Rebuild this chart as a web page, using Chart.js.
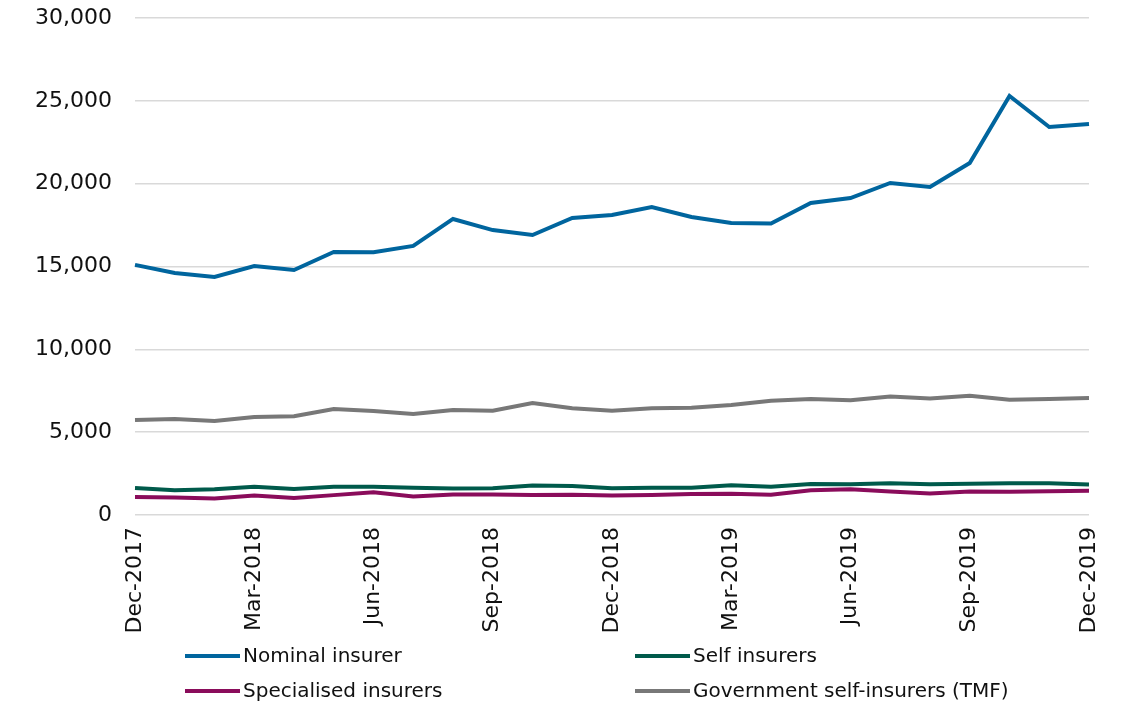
<!DOCTYPE html>
<html>
<head>
  <title>Insurer series</title>
  <style>
    body { margin: 0; background: #fff; font-family: "DejaVu Sans", sans-serif; }
    #wrap { position: relative; width: 1122px; height: 702px; }
    #legend { position: absolute; left: 0; top: 0; width: 1122px; height: 702px; pointer-events: none; }
    .item { position: absolute; font-size: 20px; color: #111; white-space: nowrap; line-height: 24px; }
    .item span.mark { display: inline-block; width: 55px; height: 4px; vertical-align: middle; margin-right: 3px; position: relative; top: -1px; }
  </style>
  <script src="https://cdn.jsdelivr.net/npm/chart.js"></script>
</head>
<body>
  <div id="wrap">
    <canvas id="chart" width="1122" height="702"></canvas>
    <div id="legend"></div>
  </div>
  <script>
    const months = ['Dec-2017', 'Jan-2018', 'Feb-2018', 'Mar-2018', 'Apr-2018', 'May-2018', 'Jun-2018',
      'Jul-2018', 'Aug-2018', 'Sep-2018', 'Oct-2018', 'Nov-2018', 'Dec-2018', 'Jan-2019', 'Feb-2019',
      'Mar-2019', 'Apr-2019', 'May-2019', 'Jun-2019', 'Jul-2019', 'Aug-2019', 'Sep-2019', 'Oct-2019',
      'Nov-2019', 'Dec-2019'];
    const nominal = [15100, 14610, 14370, 15030, 14790, 15880, 15860, 16240, 17870, 17200, 16900, 17930,
      18110, 18590, 17990, 17630, 17600, 18830, 19130, 20040, 19800, 21250, 25290, 23420, 23600];
    const selfIns = [1630, 1500, 1560, 1700, 1570, 1700, 1700, 1650, 1600, 1620, 1780, 1750,
      1620, 1650, 1640, 1800, 1700, 1870, 1860, 1920, 1860, 1880, 1920, 1920, 1840];
    const specialised = [1080, 1050, 990, 1180, 1030, 1200, 1380, 1120, 1230, 1230, 1200, 1220,
      1180, 1200, 1270, 1290, 1220, 1500, 1550, 1420, 1300, 1420, 1400, 1440, 1460];
    const government = [5730, 5800, 5680, 5920, 5960, 6400, 6280, 6100, 6340, 6300, 6760, 6450,
      6300, 6450, 6480, 6640, 6900, 7000, 6930, 7150, 7030, 7200, 6960, 7000, 7060];
    const yTicks = [0, 5000, 10000, 15000, 20000, 25000, 30000];

    const series = [
      {label: 'Nominal insurer', data: nominal, color: '#00659e', col: 0, row: 0},
      {label: 'Self insurers', data: selfIns, color: '#005a4b', col: 1, row: 0},
      {label: 'Specialised insurers', data: specialised, color: '#8a0c5b', col: 0, row: 1},
      {label: 'Government self-insurers (TMF)', data: government, color: '#787878', col: 1, row: 1}
    ];

    const font = {family: '"DejaVu Sans", sans-serif', size: 22};

    new Chart(document.getElementById('chart'), {
      type: 'line',
      data: {
        labels: months,
        datasets: series.map(s => ({
          label: s.label, data: s.data, borderColor: s.color, backgroundColor: s.color,
          borderWidth: 4, pointRadius: 0, tension: 0, fill: false
        }))
      },
      options: {
        responsive: false,
        animation: false,
        layout: {padding: {top: 18, right: 33, left: 0, bottom: 0}},
        plugins: {legend: {display: false}, tooltip: {enabled: false}},
        scales: {
          x: {
            offset: false,
            grid: {display: false, drawTicks: false},
            border: {display: false},
            // fixed axis size, no extra room for the rotated end labels
            afterFit: s => { s.height = 187; s.paddingLeft = 0; s.paddingRight = 0; },
            ticks: {
              autoSkip: false, maxRotation: 90, minRotation: 90, padding: 12,
              color: '#111', font: font,
              callback: (v, i) => (i % 3 === 0 ? months[i] : '')
            }
          },
          y: {
            min: 0, max: 30000,
            afterFit: s => { s.width = 135; s.paddingTop = 0; s.paddingBottom = 0; },
            afterBuildTicks: s => { s.ticks = yTicks.map(v => ({value: v})); },
            grid: {color: '#d9d9d9', lineWidth: 1.5, drawTicks: false},
            border: {display: false},
            ticks: {
              padding: 23, color: '#111', font: font,
              callback: v => v.toLocaleString('en-US')
            }
          }
        }
      }
    });

    // legend in two fixed columns, like the original
    const legend = document.getElementById('legend');
    series.forEach(s => {
      const d = document.createElement('div');
      d.className = 'item';
      d.style.left = (s.col ? 635 : 185) + 'px';
      d.style.top = (s.row ? 678 : 643) + 'px';
      d.innerHTML = '<span class="mark" style="background:' + s.color + '"></span>' + s.label;
      legend.appendChild(d);
    });
  </script>
</body>
</html>
